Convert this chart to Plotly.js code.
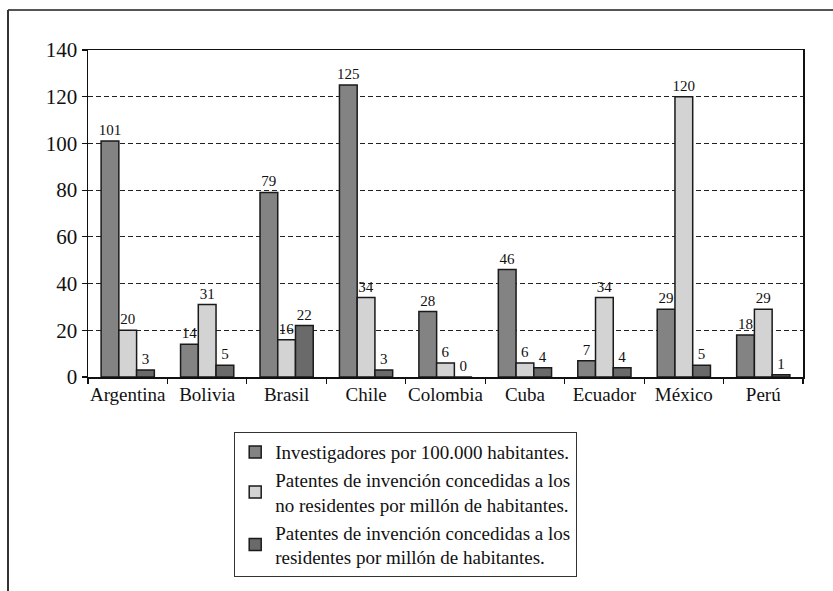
<!DOCTYPE html>
<html>
<head>
<meta charset="utf-8">
<script src="https://cdn.plot.ly/plotly-3.0.1.min.js"></script>
<style>html,body{margin:0;padding:0;background:#fff;}#chart{width:833px;height:591px;}</style>
</head>
<body>
<div id="chart"></div>
<script>
const countries = ["Argentina","Bolivia","Brasil","Chile","Colombia","Cuba","Ecuador","México","Perú"];
const investigadores = [101, 14, 79, 125, 28, 46, 7, 29, 18];
const patentesNoResidentes = [20, 31, 16, 34, 6, 6, 34, 120, 29];
const patentesResidentes = [3, 5, 22, 3, 0, 4, 4, 5, 1];
const seriesNames = [
  "Investigadores por 100.000 habitantes.",
  "Patentes de invención concedidas a los<br>no residentes por millón de habitantes.",
  "Patentes de invención concedidas a los<br>residentes por millón de habitantes."
];
const yTicks = [0, 20, 40, 60, 80, 100, 120, 140];

const FONT = "Liberation Serif";
const colors = ["#838383", "#d3d3d3", "#6a6a6a"];
const values = [investigadores, patentesNoResidentes, patentesResidentes];

const traces = values.map((v, i) => ({
  type: "bar",
  name: seriesNames[i],
  x: countries,
  y: v,
  text: v.map(String),
  textposition: "outside",
  textangle: 0,
  constraintext: "none",
  cliponaxis: false,
  textfont: {family: FONT, size: 15, color: "#111"},
  marker: {color: colors[i], line: {color: "#1a1a1a", width: 1.5}},
  hoverinfo: "none"
}));

const W = 833, H = 591, L = 88, R = 30, T = 50, B = 214;
const pw = W - L - R, ph = H - T - B;
const px = x => (x - L) / pw;
const py = y => (H - B - y) / ph;

const layout = {
  width: W, height: H,
  margin: {l: L, r: R, t: T, b: B, pad: 0},
  paper_bgcolor: "#fff", plot_bgcolor: "#fff",
  font: {family: FONT, color: "#111"},
  barmode: "group",
  bargap: 0.33,
  bargroupgap: 0,
  showlegend: true,
  legend: {
    x: px(234), y: py(432), xanchor: "left", yanchor: "top",
    bordercolor: "#333", borderwidth: 1.2, bgcolor: "#fff",
    font: {family: FONT, size: 19, color: "#111"},
    tracegroupgap: 0, itemwidth: 30, traceorder: "normal"
  },
  xaxis: {
    type: "category",
    tickangle: 0,
    showline: true, linecolor: "#111", linewidth: 1.5, mirror: true,
    ticks: "outside", ticklen: 5, tickcolor: "#111", tickwidth: 1.2,
    tickson: "boundaries",
    tickfont: {family: FONT, size: 19, color: "#111"},
    showgrid: false, fixedrange: true
  },
  yaxis: {
    range: [0, 140],
    tickvals: yTicks,
    ticktext: yTicks.map(String),
    showline: true, linecolor: "#111", linewidth: 1.5, mirror: true,
    ticks: "outside", ticklen: 5, tickcolor: "#111", tickwidth: 1.2,
    tickfont: {family: FONT, size: 21, color: "#111"},
    showgrid: true, gridcolor: "#222", gridwidth: 1, griddash: "5px,3px",
    zeroline: false, fixedrange: true
  },
  shapes: [
    {type: "line", xref: "paper", yref: "paper", x0: px(8), x1: px(840), y0: py(10), y1: py(10), line: {color: "#555", width: 2}},
    {type: "line", xref: "paper", yref: "paper", x0: px(8), x1: px(8), y0: py(10), y1: py(600), line: {color: "#333", width: 2}}
  ]
};

Plotly.newPlot("chart", traces, layout, {staticPlot: true, displayModeBar: false});
</script>
</body>
</html>
